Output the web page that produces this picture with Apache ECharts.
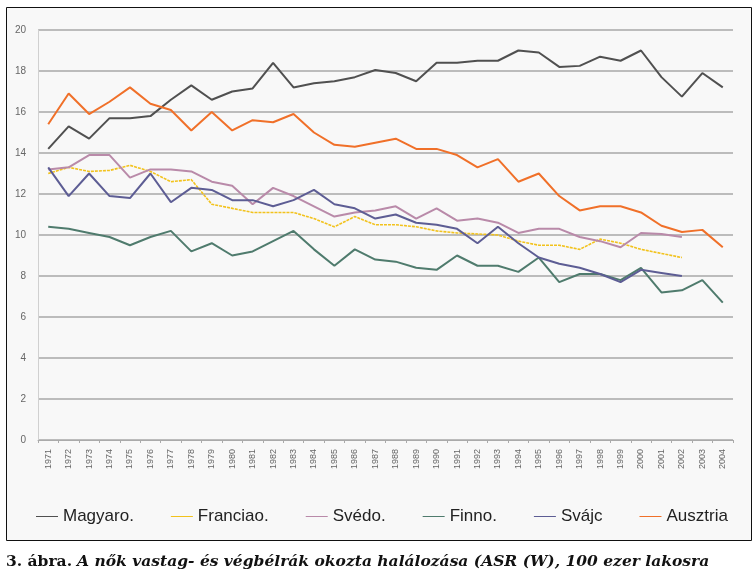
<!DOCTYPE html>
<html>
<head>
<meta charset="utf-8">
<script src="https://cdn.jsdelivr.net/npm/echarts@6/dist/echarts.min.js"></script>
<style>
  html, body { margin: 0; padding: 0; background: #fff; }
  #chart { width: 755px; height: 587px; }
</style>
</head>
<body>
<div id="chart"></div>
<script>
// 年份
const years = [];
for (let y = 1971; y <= 2004; y++) years.push(String(y));

// 各国数据 (ASR, 100 ezer lakosra)
const magyaro = [14.2, 15.3, 14.7, 15.7, 15.7, 15.8, 16.6, 17.3, 16.6, 17.0, 17.15, 18.4, 17.2, 17.4, 17.5, 17.7, 18.05,
  17.9, 17.5, 18.4, 18.4, 18.5, 18.5, 19.0, 18.9, 18.2, 18.25, 18.7, 18.5, 19.0, 17.7, 16.75, 17.9, 17.2];
const franciao = [13.0, 13.3, 13.1, 13.15, 13.4, 13.1, 12.6, 12.7, 11.5, 11.3, 11.1, 11.1, 11.1, 10.8, 10.4, 10.9, 10.5,
  10.5, 10.4, 10.2, 10.1, 10.05, 10.0, 9.7, 9.5, 9.5, 9.3, 9.8, 9.6, 9.3, 9.1, 8.9];
const svedo = [13.2, 13.3, 13.9, 13.9, 12.8, 13.2, 13.2, 13.1, 12.6, 12.4, 11.5, 12.3, 11.9, 11.4, 10.9, 11.1, 11.2,
  11.4, 10.8, 11.3, 10.7, 10.8, 10.6, 10.1, 10.3, 10.3, 9.9, 9.7, 9.4, 10.1, 10.05, 9.9];
const finno = [10.4, 10.3, 10.1, 9.9, 9.5, 9.9, 10.2, 9.2, 9.6, 9.0, 9.2, 9.7, 10.2, 9.3, 8.5, 9.3, 8.8,
  8.7, 8.4, 8.3, 9.0, 8.5, 8.5, 8.2, 8.9, 7.7, 8.1, 8.1, 7.8, 8.4, 7.2, 7.3, 7.8, 6.7];
const svajc = [13.3, 11.9, 13.0, 11.9, 11.8, 13.0, 11.6, 12.3, 12.2, 11.7, 11.7, 11.4, 11.7, 12.2, 11.5, 11.3, 10.8,
  11.0, 10.6, 10.5, 10.3, 9.6, 10.4, 9.6, 8.9, 8.6, 8.4, 8.1, 7.7, 8.3, 8.15, 8.0];
const ausztria = [15.4, 16.9, 15.9, 16.5, 17.2, 16.4, 16.1, 15.1, 16.0, 15.1, 15.6, 15.5, 15.9, 15.0, 14.4, 14.3, 14.5,
  14.7, 14.2, 14.2, 13.9, 13.3, 13.7, 12.6, 13.0, 11.9, 11.2, 11.4, 11.4, 11.1, 10.45, 10.15, 10.25, 9.4];

const names = ['Magyaro.', 'Franciao.', 'Svédo.', 'Finno.', 'Svájc', 'Ausztria'];
const colors = ['#505050', '#f2c21c', '#b98aa9', '#4f7b6d', '#5d5d94', '#f07029'];
const seriesData = [magyaro, franciao, svedo, finno, svajc, ausztria];

const chart = echarts.init(document.getElementById('chart'));

const option = {
  animation: false,
  backgroundColor: '#fff',
  graphic: [
    {
      type: 'rect',
      z: -10,
      shape: { x: 6.5, y: 7.5, width: 745, height: 533 },
      style: { fill: '#f8f8f8', stroke: '#111', lineWidth: 1 }
    }
  ],
  title: {
    left: 6,
    top: 553,
    padding: 0,
    text: '{b|3. ábra.} {i|A nők vastag- és végbélrák okozta halálozása (ASR (W), 100 ezer lakosra}',
    textStyle: {
      rich: {
        b: { fontFamily: 'DejaVu Serif', fontWeight: 'bold', fontSize: 15.5, color: '#111' },
        i: { fontFamily: 'DejaVu Serif', fontStyle: 'italic', fontSize: 15.5, color: '#111' }
      }
    }
  },
  legend: {
    left: 31,
    top: 503,
    itemGap: 37,
    itemWidth: 22,
    itemHeight: 10,
    icon: 'path://M0,4.5 L22,4.5 L22,5.5 L0,5.5 Z',
    textStyle: { fontFamily: 'Liberation Sans', fontSize: 17, color: '#222' },
    data: names
  },
  grid: { left: 38, right: 22, top: 30, bottom: 147 },
  xAxis: {
    type: 'category',
    data: years,
    boundaryGap: true,
    axisLine: { lineStyle: { color: '#aaa', width: 1 } },
    axisTick: { show: true, lineStyle: { color: '#aaa' }, length: 3 },
    axisLabel: { rotate: 90, interval: 0, fontSize: 9, color: '#666', fontFamily: 'Liberation Sans', margin: 9 }
  },
  yAxis: {
    type: 'value',
    min: 0,
    max: 20,
    interval: 2,
    axisLine: { show: true, lineStyle: { color: '#d0d0d0' } },
    axisTick: { show: false },
    axisLabel: { fontSize: 10, color: '#666', fontFamily: 'Liberation Sans', margin: 12 },
    splitLine: { lineStyle: { color: '#a8a8a8', width: 1.5 } }
  },
  series: names.map((n, i) => ({
    name: n,
    type: 'line',
    data: seriesData[i],
    symbol: 'none',
    color: colors[i],
    lineStyle: { color: colors[i], width: i === 1 ? 1.6 : 2, type: i === 1 ? [3, 1] : 'solid' }
  }))
};

chart.setOption(option);
</script>
</body>
</html>
